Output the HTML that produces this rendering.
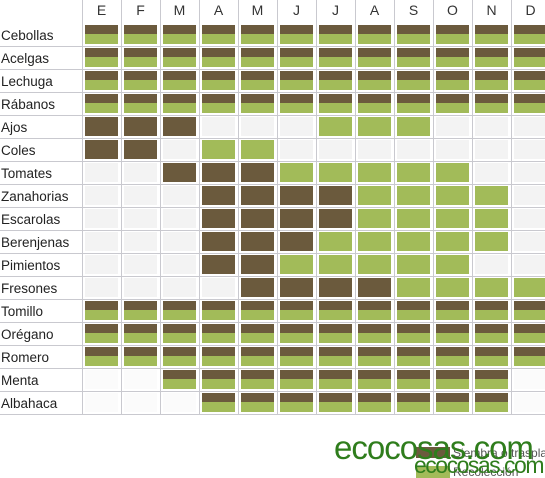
<!DOCTYPE html>
<html><head><meta charset="utf-8"><style>
body{margin:0;background:#fff;width:545px;height:478px;overflow:hidden}
svg{display:block}
text{font-family:"Liberation Sans Narrow","Liberation Sans",sans-serif}
</style></head><body>
<svg id="chart" width="545" height="478" viewBox="0 0 545 478">
<g id="grid"></g>
<g id="cells"></g>
<g id="labels"></g>
<g id="months"></g>
<g>
<rect x="416" y="447" width="34" height="11" fill="#6b5a3d"/>
<text x="453" y="457" font-size="12" fill="#555">Siembra o trasplante</text>
<rect x="416" y="466" width="34" height="12" fill="#a2bb59"/>
<text x="453" y="476" font-size="12" fill="#555">Recolección</text>
</g>
<text x="334" y="459" font-size="33" fill="#2f7d1c" font-family="Liberation Mono, monospace" letter-spacing="-1">ecocosas.com</text>
<text x="414" y="473" font-size="23" fill="#2f7d1c" font-family="Liberation Mono, monospace" letter-spacing="-1.5">ecocosas.com</text>
</svg>
<script>
const months=["E","F","M","A","M","J","J","A","S","O","N","D"];
const crops=["Cebollas","Acelgas","Lechuga","Rábanos","Ajos","Coles","Tomates","Zanahorias","Escarolas","Berenjenas","Pimientos","Fresones","Tomillo","Orégano","Romero","Menta","Albahaca"];
// 0 empty, 1 siembra, 2 recolección, 3 both
const states=[
[3,3,3,3,3,3,3,3,3,3,3,3],
[3,3,3,3,3,3,3,3,3,3,3,3],
[3,3,3,3,3,3,3,3,3,3,3,3],
[3,3,3,3,3,3,3,3,3,3,3,3],
[1,1,1,0,0,0,2,2,2,0,0,0],
[1,1,0,2,2,0,0,0,0,0,0,0],
[0,0,1,1,1,2,2,2,2,2,0,0],
[0,0,0,1,1,1,1,2,2,2,2,0],
[0,0,0,1,1,1,1,2,2,2,2,0],
[0,0,0,1,1,1,2,2,2,2,2,0],
[0,0,0,1,1,2,2,2,2,2,0,0],
[0,0,0,0,1,1,1,1,2,2,2,2],
[3,3,3,3,3,3,3,3,3,3,3,3],
[3,3,3,3,3,3,3,3,3,3,3,3],
[3,3,3,3,3,3,3,3,3,3,3,3],
[0,0,3,3,3,3,3,3,3,3,3,0],
[0,0,0,3,3,3,3,3,3,3,3,0]
];
const NS="http://www.w3.org/2000/svg";
const x0=82,cw=39,y0=24,rh=23;
const xs=i=>x0+i*cw, ys=j=>y0+j*rh;
function mk(t,a,p){const e=document.createElementNS(NS,t);for(const k in a)e.setAttribute(k,a[k]);p.appendChild(e);return e;}
const grid=document.getElementById('grid'),cells=document.getElementById('cells'),labels=document.getElementById('labels'),mh=document.getElementById('months');
for(let i=0;i<=12;i++){const l=mk('line',{x1:xs(i)+0.5,x2:xs(i)+0.5,y1:0,y2:ys(crops.length)-1,stroke:'#c9c9cf','stroke-width':1},grid);

}
for(let j=1;j<=crops.length;j++){const l=mk('line',{x1:0,x2:545,y1:ys(j)-0.5,y2:ys(j)-0.5,stroke:'#c9c9cf','stroke-width':1},grid);

}
months.forEach((m,i)=>{const t=mk('text',{x:xs(i)+cw/2,y:15,'font-size':14,'text-anchor':'middle',fill:'#333'},mh);t.textContent=m;

});
crops.forEach((c,j)=>{const t=mk('text',{x:1,y:ys(j)+16,'font-size':13.5,fill:'#222'},labels);t.textContent=c;


states[j].forEach((s,i)=>{const x=xs(i)+3,y=ys(j)+1,w=33,h=19;
if(s===0){const r=mk('rect',{x,y,width:w,height:h,fill:(j>=15?'#fbfbfb':'#f3f3f3')},cells);

}
else if(s===1||s===2){const r=mk('rect',{x,y,width:w,height:h,fill:s===1?'#6b5a3d':'#a2bb59'},cells);

}
else{const a=mk('rect',{x,y,width:w,height:9,fill:'#6b5a3d'},cells);


const b=mk('rect',{x,y:y+9,width:w,height:10,fill:'#a2bb59'},cells);

}
});});
</script>
</body></html>
